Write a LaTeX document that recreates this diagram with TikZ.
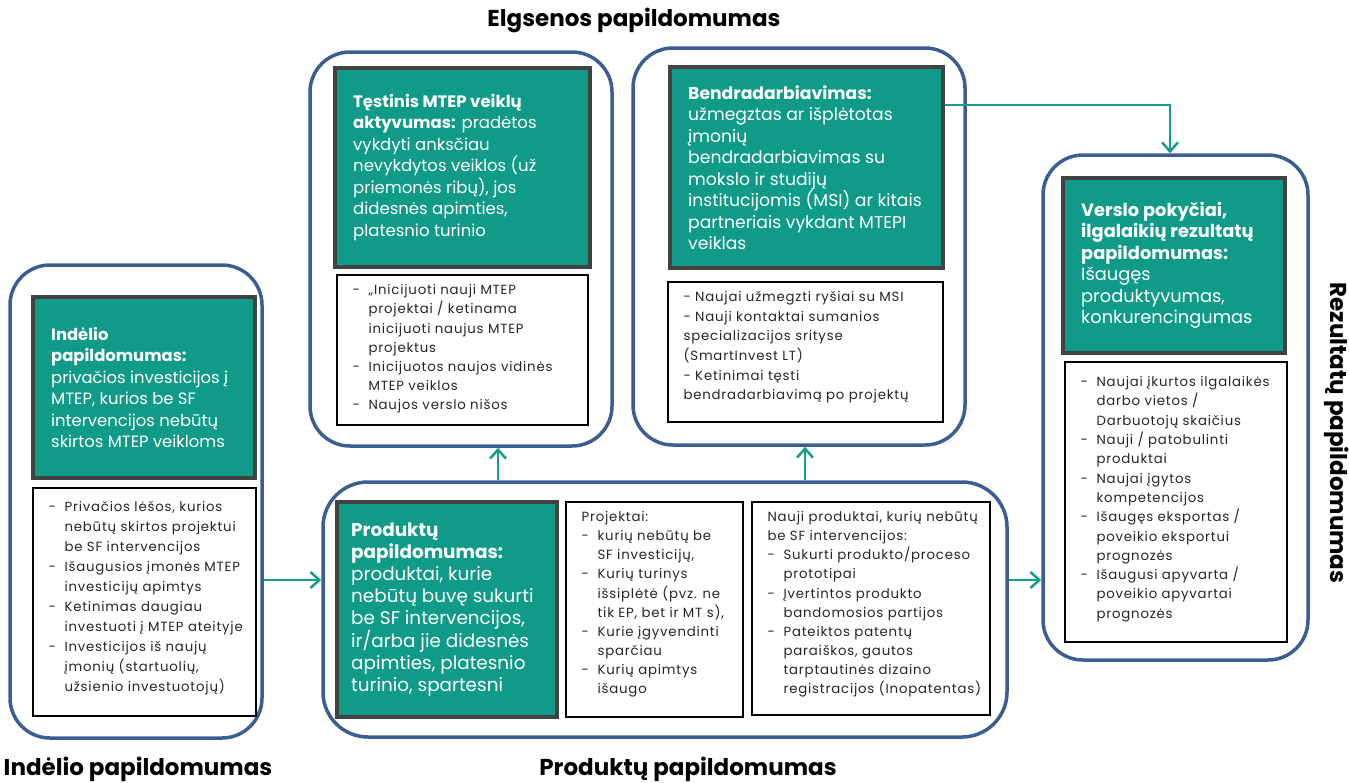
\documentclass[tikz,border=0pt]{standalone}
\usepackage{fontspec}
\setmainfont{Poppins}
\usetikzlibrary{arrows.meta}

\definecolor{boxteal}{RGB}{16,154,136}
\definecolor{boxedge}{RGB}{66,66,66}
\definecolor{groupblue}{RGB}{58,94,145}
\definecolor{linkteal}{RGB}{22,158,138}

\newcommand\dashitem{\makebox[16pt][l]{-}}
\newcommand\contline{\hspace*{16pt}}

\begin{document}
\begin{tikzpicture}[x=1pt,y=-1pt,
  group/.style={draw=groupblue, line width=3.5pt, rounded corners=40pt, inner sep=0pt},
  finding/.style={draw=boxedge, fill=boxteal, line width=4pt, inner sep=0pt},
  evidence/.style={draw=black, fill=white, line width=1.3pt, inner sep=0pt},
  gtext/.style={text=white, align=left, inner sep=0pt, font=\fontsize{#1}{21.5}\selectfont, anchor=west, xshift=20pt},
  wtext/.style={text=black!85, align=left, inner sep=0pt, font=\fontsize{13.3}{#1}\selectfont\addfontfeatures{LetterSpace=6}, anchor=north west, xshift=16pt, yshift=-10pt},
  heading/.style={font=\fontsize{23}{26}\selectfont\bfseries},
  link/.style={draw=linkteal, line width=2.5pt, -{Straight Barb[length=9pt,width=16pt]}},
]
\useasboundingbox (0,0) rectangle (1349,782);

% group frames
\node[group, minimum width=252pt, minimum height=473pt] (inGroup) at (136,501.5) {};
\node[group, minimum width=302pt, minimum height=394pt] (actGroup) at (461,249) {};
\node[group, minimum width=332pt, minimum height=397pt] (coopGroup) at (799,246.5) {};
\node[group, minimum width=265pt, minimum height=505pt] (rezGroup) at (1175.5,407.5) {};
\node[group, minimum width=684pt, minimum height=255pt, rounded corners=45pt] (prodGroup) at (665,609.5) {};

% input additionality
\node[finding, minimum width=222pt, minimum height=181pt] (inFind) at (144,387.5) {};
\node[evidence, minimum width=223pt, minimum height=228pt] (inEvid) at (144.5,602) {};
\node[gtext=16.4] (inFindTxt) at (inFind.west) {\textbf{Indėlio}\\\textbf{papildomumas:}\\privačios investicijos į\\MTEP, kurios be SF\\intervencijos nebūtų\\skirtos MTEP veikloms};
\node[wtext=20, yshift=-4pt] (inEvidTxt) at (inEvid.north west) {\dashitem Privačios lėšos, kurios\\\contline nebūtų skirtos projektui\\\contline be SF intervencijos\\\dashitem Išaugusios įmonės MTEP\\\contline investicijų apimtys\\\dashitem Ketinimas daugiau\\\contline investuoti į MTEP ateityje\\\dashitem Investicijos iš naujų\\\contline įmonių (startuolių,\\\contline užsienio investuotojų)};

% continued R&D activity
\node[finding, minimum width=255pt, minimum height=199pt] (actFind) at (462.5,167.5) {};
\node[evidence, minimum width=251pt, minimum height=150pt] (actEvid) at (462.5,350) {};
\node[gtext=16.5] (actFindTxt) at (actFind.west) {\textbf{Tęstinis MTEP veiklų}\\\textbf{aktyvumas:} pradėtos\\vykdyti anksčiau\\nevykdytos veiklos (už\\priemonės ribų), jos\\didesnės apimties,\\platesnio turinio};
\node[wtext=19.2] (actEvidTxt) at (actEvid.north west) {\dashitem „Inicijuoti nauji MTEP\\\contline projektai / ketinama\\\contline inicijuoti naujus MTEP\\\contline projektus\\\dashitem Inicijuotos naujos vidinės\\\contline MTEP veiklos\\\dashitem Naujos verslo nišos};

% cooperation
\node[finding, minimum width=273pt, minimum height=201pt] (coopFind) at (806.5,167.5) {};
\node[evidence, minimum width=275pt, minimum height=140pt] (coopEvid) at (805.5,352) {};
\node[gtext=17.2] (coopFindTxt) at (coopFind.west) {\textbf{Bendradarbiavimas:}\\užmegztas ar išplėtotas\\įmonių\\bendradarbiavimas su\\mokslo ir studijų\\institucijomis (MSI) ar kitais\\partneriais vykdant MTEPI\\veiklas};
\node[wtext=19.6] (coopEvidTxt) at (coopEvid.north west) {- Naujai užmegzti ryšiai su MSI\\- Nauji kontaktai sumanios\\specializacijos srityse\\(SmartInvest LT)\\- Ketinimai tęsti\\bendradarbiavimą po projektų};

% business change
\node[finding, minimum width=222pt, minimum height=175pt] (rezFind) at (1174,265.5) {};
\node[evidence, minimum width=222pt, minimum height=280pt] (rezEvid) at (1176,502) {};
\node[gtext=17.8] (rezFindTxt) at (rezFind.west) {\textbf{Verslo pokyčiai,}\\\textbf{ilgalaikių rezultatų}\\\textbf{papildomumas:}\\Išaugęs\\produktyvumas,\\konkurencingumas};
\node[wtext=19.3, yshift=-5pt] (rezEvidTxt) at (rezEvid.north west) {\dashitem Naujai įkurtos ilgalaikės\\\contline darbo vietos /\\\contline Darbuotojų skaičius\\\dashitem Nauji / patobulinti\\\contline produktai\\\dashitem Naujai įgytos\\\contline kompetencijos\\\dashitem Išaugęs eksportas /\\\contline poveikio eksportui\\\contline prognozės\\\dashitem Išaugusi apyvarta /\\\contline poveikio apyvartai\\\contline prognozės};

% product additionality
\node[finding, minimum width=220pt, minimum height=215pt] (prodFind) at (447,609.5) {};
\node[evidence, minimum width=177pt, minimum height=215pt] (projEvid) at (654.5,609.5) {};
\node[evidence, minimum width=238pt, minimum height=213pt] (prodEvid) at (871,608.5) {};
\node[gtext=18.4, xshift=-4pt, font=\fontsize{18.4}{22}\selectfont] (prodFindTxt) at (prodFind.west) {\textbf{Produktų}\\\textbf{papildomumas:}\\produktai, kurie\\nebūtų buvę sukurti\\be SF intervencijos,\\ir/arba jie didesnės\\apimties, platesnio\\turinio, spartesni};
\node[wtext=19.1] (projEvidTxt) at (projEvid.north west) {Projektai:\\\dashitem kurių nebūtų be\\\contline SF investicijų,\\\dashitem Kurių turinys\\\contline išsiplėtė (pvz. ne\\\contline tik EP, bet ir MT s),\\\dashitem Kurie įgyvendinti\\\contline sparčiau\\\dashitem Kurių apimtys\\\contline išaugo};
\node[wtext=19.1] (prodEvidTxt) at (prodEvid.north west) {Nauji produktai, kurių nebūtų\\be SF intervencijos:\\\dashitem Sukurti produkto/proceso\\\contline prototipai\\\dashitem Įvertintos produkto\\\contline bandomosios partijos\\\dashitem Pateiktos patentų\\\contline paraiškos, gautos\\\contline tarptautinės dizaino\\\contline registracijos (Inopatentas)};

% headings
\node[heading] (elgTitle) at (634,20) {Elgsenos papildomumas};
\node[heading] (inTitle) at (138,769) {Indėlio papildomumas};
\node[heading] (prodTitle) at (688,769) {Produktų papildomumas};
\node[heading, rotate=-90] (rezTitle) at (1337,433) {Rezultatų papildomumas};

% connectors
\coordinate (rowMid) at (0,580);
\coordinate (rowTop) at (0,105);
\coordinate (colAct) at (498,0);
\coordinate (colCoop) at (805,0);
\coordinate (colRez) at (1170,0);
\draw[link] (inGroup.east |- rowMid) -- (prodGroup.west |- rowMid);
\draw[link] (prodGroup.north -| colAct) -- (actGroup.south -| colAct);
\draw[link] (prodGroup.north -| colCoop) -- (coopGroup.south -| colCoop);
\draw[link] (prodGroup.east |- rowMid) -- (rezGroup.west |- rowMid);
\draw[link] (coopFind.east |- rowTop) -| (rezGroup.north -| colRez);
\end{tikzpicture}
\end{document}
